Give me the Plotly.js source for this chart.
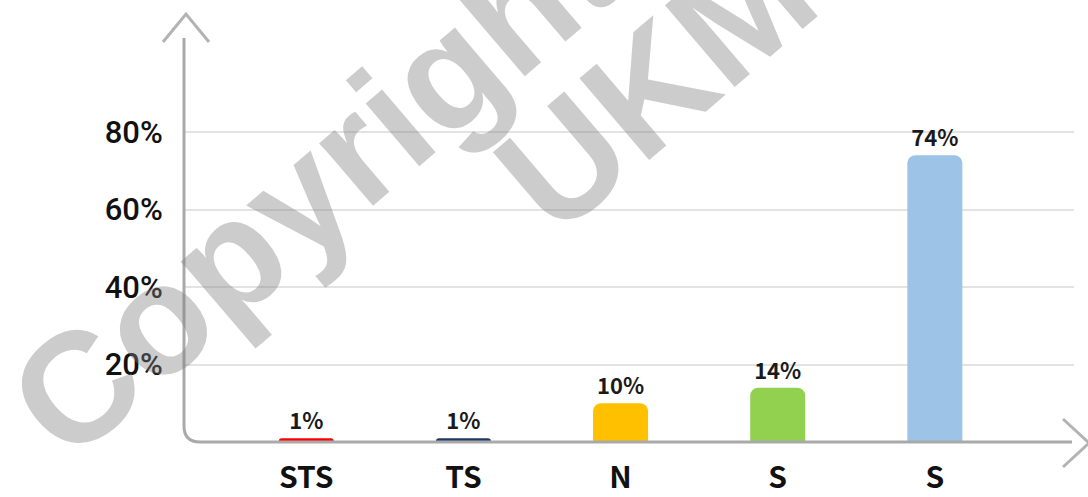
<!DOCTYPE html>
<html>
<head>
<meta charset="utf-8">
<script src="https://cdn.plot.ly/plotly-3.0.1.min.js"></script>
<style>
  html, body { margin: 0; padding: 0; background: #ffffff; }
  #chart { width: 1088px; height: 497px; }
</style>
</head>
<body>
<div id="chart"></div>
<script>
// Response groups and their shares (%)
const categories = ['STS', 'TS', 'N', 'S', 'S'];
const shares = [1, 1, 10, 14, 74];
const barColors = ['#ff0000', '#1f3864', '#ffc000', '#92d050', '#9dc3e6'];
const yTickValues = [20, 40, 60, 80];
const yTickLabels = ['20%', '40%', '60%', '80%'];

// Plot-area geometry in pixels, used to place the hand-drawn axes
const W = 1088, H = 497;
const L = 184, R = 1074, T = 13, B = 442;
const xp = px => (px - L) / (R - L);
const yp = py => (B - py) / (B - T);
const pxPerUnit = 3.875;              // pixels per percentage point
const yMax = (B - T) / pxPerUnit;

const slots = categories.map((_, i) => i);

const trace = {
  type: 'bar',
  x: slots,
  y: shares,
  width: 0.35,
  marker: { color: barColors, cornerradius: 8, line: { width: 0 } },
  text: shares.map(v => v + '%'),
  textposition: 'outside',
  cliponaxis: false,
  textfont: { family: 'Noto Sans CJK SC', size: 22, color: '#1a1a1a', weight: 600 },
  hoverinfo: 'skip'
};

const axisColor = '#a9a9a9';

const shapes = [
  // y axis bending into the x axis
  {
    type: 'path', xref: 'paper', yref: 'paper',
    path: `M ${xp(184)},${yp(38)} L ${xp(184)},${yp(426)} Q ${xp(184)},${yp(442)} ${xp(200)},${yp(442)} L ${xp(1072)},${yp(442)}`,
    line: { color: axisColor, width: 3 }
  },
  // arrow head on the y axis
  {
    type: 'path', xref: 'paper', yref: 'paper',
    path: `M ${xp(163)},${yp(42)} L ${xp(186)},${yp(14)} L ${xp(209)},${yp(42)}`,
    line: { color: '#b3b3b3', width: 3 }
  },
  // arrow head on the x axis
  {
    type: 'path', xref: 'paper', yref: 'paper',
    path: `M ${xp(1063)},${yp(419)} L ${xp(1089)},${yp(443)} L ${xp(1063)},${yp(467)}`,
    line: { color: '#b3b3b3', width: 3 }
  }
];

const markFont = { family: 'Liberation Sans', size: 156, weight: 'bold', color: 'rgba(128,128,128,0.4)' };
const annotations = [
  { text: 'Copyright', xref: 'paper', yref: 'paper', x: xp(313), y: yp(186),
    xanchor: 'center', yanchor: 'middle', showarrow: false, textangle: -40.5, font: markFont },
  { text: 'UKM', xref: 'paper', yref: 'paper', x: xp(655), y: yp(84),
    xanchor: 'center', yanchor: 'middle', showarrow: false, textangle: -40.5, font: markFont }
];

const layout = {
  width: W, height: H,
  margin: { l: L, r: W - R, t: T, b: H - B, pad: 0 },
  paper_bgcolor: '#ffffff',
  plot_bgcolor: '#ffffff',
  showlegend: false,
  xaxis: {
    range: [-0.778, -0.778 + (R - L) / 157.15],
    tickvals: slots,
    ticktext: categories,
    showgrid: false, zeroline: false, showline: false,
    ticks: 'outside', ticklen: 9, tickcolor: 'rgba(0,0,0,0)',
    tickfont: { family: 'Noto Sans CJK SC', size: 30, color: '#111111', weight: 600 },
    fixedrange: true
  },
  yaxis: {
    range: [0, yMax],
    tickvals: yTickValues,
    ticktext: yTickLabels,
    showgrid: true, gridcolor: '#e3e3e3', gridwidth: 2,
    zeroline: false, showline: false,
    ticks: 'outside', ticklen: 14, tickcolor: 'rgba(0,0,0,0)',
    tickfont: { family: 'Roboto', size: 31, color: '#111111', weight: 500 },
    fixedrange: true
  },
  shapes: shapes,
  annotations: annotations
};

Plotly.newPlot('chart', [trace], layout, { displayModeBar: false, staticPlot: true });
</script>
</body>
</html>
